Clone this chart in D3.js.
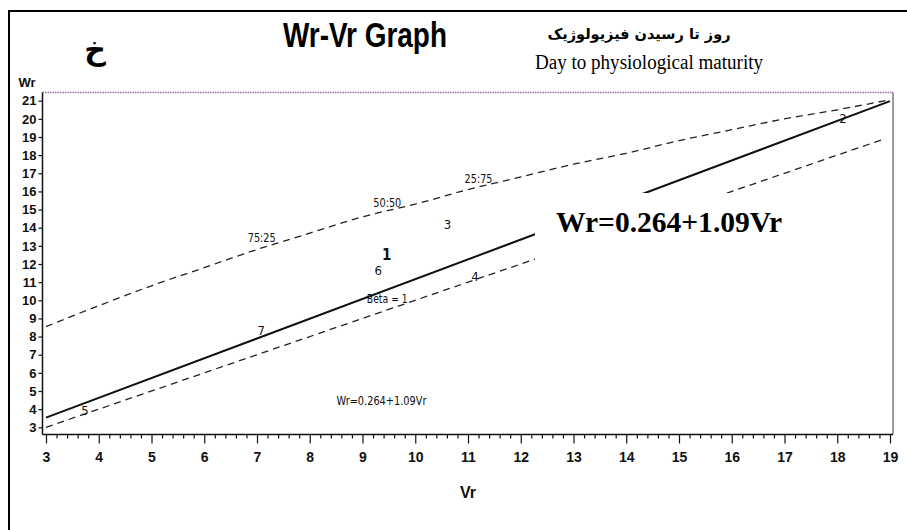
<!DOCTYPE html>
<html>
<head>
<meta charset="utf-8">
<script src="https://cdn.jsdelivr.net/npm/d3@7"></script>
<style>
  html, body { margin: 0; padding: 0; background: #fff; }
  svg { display: block; }
  .narrow { font-family: "Liberation Sans Narrow", "Arial Narrow", "DejaVu Sans Condensed", sans-serif; }
</style>
</head>
<body>
<svg id="chart" width="907" height="530"></svg>
<script>
// ---------- data ----------
const xTicks = [3,4,5,6,7,8,9,10,11,12,13,14,15,16,17,18,19];
const yTicks = [3,4,5,6,7,8,9,10,11,12,13,14,15,16,17,18,19,20,21];

// parent labels (array numbers) plotted at (Vr, Wr)
const parents = ["1","2","3","4","5","6","7"];
const parentVr = [9.46, 18.11, 10.61, 11.13, 3.74, 9.30, 7.08];
const parentWr = [12.52, 20.03, 14.15, 11.30, 3.95, 11.62, 8.33];

// regression line Wr = a + b Vr
const regA = 0.264;
const regB = 1.09;
const regVr = [3, 19];

// unit slope line (Beta = 1)
const betaVr = [3, 18.92];
const betaWr = [3, 18.92];

// limiting parabola
const curveVr = [3,4,5,6,7,8,9,10,11,12,13,14,15,16,17,18,19];
const curveWr = [8.55,9.7,10.8,11.8,12.8,13.7,14.6,15.3,16.1,16.8,17.5,18.1,18.8,19.4,20.0,20.5,21.05];

// ---------- drawing ----------
const svg = d3.select("#chart");
svg.append("rect").attr("width", 907).attr("height", 530).attr("fill", "#fff");

// outer frame (only top and left visible)
svg.append("path").attr("d", "M9,540 L9,11 L920,11")
  .attr("fill", "none").attr("stroke", "#000").attr("stroke-width", 2);

const x = d3.scaleLinear().domain([3, 19]).range([46, 890]);
const y = d3.scaleLinear().domain([3, 21]).range([427.3, 100.7]);

const plotL = 42.5, plotR = 893, plotT = 92.5, plotB = 434.5;

// plot frame: dotted purple top, grey right
svg.append("line").attr("x1", plotL).attr("x2", plotR).attr("y1", plotT).attr("y2", plotT)
  .attr("stroke", "#9a6aa8").attr("stroke-width", 1.3).attr("stroke-dasharray", "1.5,1");
svg.append("line").attr("x1", plotR).attr("x2", plotR).attr("y1", plotT).attr("y2", plotB)
  .attr("stroke", "#666").attr("stroke-width", 1.3);

// curves
const line = d3.line().x(d => x(d[0])).y(d => y(d[1]));
const g = svg.append("g");

g.append("path").datum(curveVr.map((v, i) => [v, curveWr[i]]))
  .attr("d", d3.line().curve(d3.curveMonotoneX).x(d => x(d[0])).y(d => y(d[1])))
  .attr("fill", "none").attr("stroke", "#222").attr("stroke-width", 1.3).attr("stroke-dasharray", "7,5");

g.append("path").datum(betaVr.map((v, i) => [v, betaWr[i]]))
  .attr("d", line)
  .attr("fill", "none").attr("stroke", "#222").attr("stroke-width", 1.3).attr("stroke-dasharray", "7,5");

g.append("path").datum(regVr.map(v => [v, regA + regB * v]))
  .attr("d", line)
  .attr("fill", "none").attr("stroke", "#111").attr("stroke-width", 2);

// curve ratio labels
const ratioLabels = ["75:25", "50:50", "25:75"];
const ratioVr = [7.09, 9.47, 11.2];
const ratioWr = [13.21, 15.16, 16.47];
svg.selectAll(".ratio").data(ratioLabels).enter().append("text")
  .attr("class", "narrow")
  .attr("x", (d, i) => x(ratioVr[i])).attr("y", (d, i) => y(ratioWr[i]))
  .attr("text-anchor", "middle").attr("font-size", 12).attr("fill", "#111")
  .attr("textLength", 28).attr("lengthAdjust", "spacingAndGlyphs")
  .text(d => d);

svg.append("text").attr("class", "narrow")
  .attr("x", x(9.47)).attr("y", y(9.85))
  .attr("text-anchor", "middle").attr("font-size", 12).attr("fill", "#111")
  .attr("textLength", 41).attr("lengthAdjust", "spacingAndGlyphs")
  .text("Beta = 1");

svg.append("text").attr("class", "narrow")
  .attr("x", x(9.36)).attr("y", y(4.23))
  .attr("text-anchor", "middle").attr("font-size", 12).attr("fill", "#111")
  .attr("textLength", 90).attr("lengthAdjust", "spacingAndGlyphs")
  .text("Wr=0.264+1.09Vr");

// parent number labels
svg.selectAll(".parent").data(parents).enter().append("text")
  .attr("class", "narrow")
  .attr("x", (d, i) => x(parentVr[i])).attr("y", (d, i) => y(parentWr[i]))
  .attr("text-anchor", "middle").attr("dominant-baseline", "central")
  .attr("font-size", d => d === "1" ? 15 : 13)
  .attr("font-weight", d => d === "1" ? "bold" : "normal")
  .attr("fill", "#111")
  .text(d => d);

// white box behind the big equation
svg.append("rect").attr("x", 535).attr("y", 193).attr("width", 265).attr("height", 80).attr("fill", "#fff");
svg.append("text")
  .attr("x", 669).attr("y", 232)
  .attr("text-anchor", "middle")
  .attr("font-family", "'Liberation Serif', 'Times New Roman', serif")
  .attr("font-weight", "bold").attr("font-size", 30).attr("fill", "#000")
  .attr("textLength", 226).attr("lengthAdjust", "spacingAndGlyphs")
  .text("Wr=0.264+1.09Vr");

// axes
const xMinor = d3.range(3, 19.0001, 0.2).filter(v => Math.abs(v - Math.round(v)) > 1e-6);
const xAxisMinor = d3.axisBottom(x).tickValues(xMinor).tickSize(4).tickFormat("");
const xAxis = d3.axisBottom(x).tickValues(xTicks).tickSize(9).tickPadding(9).tickFormat(d3.format("d"));
const gx = svg.append("g").attr("transform", `translate(0,${plotB})`);
gx.append("g").call(xAxisMinor).call(s => s.select(".domain").remove());
gx.append("g").attr("class", "narrow").call(xAxis).call(s => s.select(".domain").remove());
gx.selectAll("line").attr("stroke", "#111").attr("stroke-width", 1.2);
gx.selectAll("text").attr("font-family", "'Liberation Sans Narrow', 'Arial Narrow', sans-serif")
  .attr("font-weight", "bold").attr("font-size", 14).attr("fill", "#111");
svg.append("line").attr("x1", plotL).attr("x2", plotR).attr("y1", plotB).attr("y2", plotB)
  .attr("stroke", "#111").attr("stroke-width", 1.5);

const yAxis = d3.axisLeft(y).tickValues(yTicks).tickSize(4).tickPadding(2).tickFormat(d3.format("d"));
const gy = svg.append("g").attr("transform", `translate(${plotL},0)`).call(yAxis);
gy.select(".domain").remove();
gy.selectAll("line").attr("stroke", "#111").attr("stroke-width", 1.2);
gy.selectAll("text").attr("font-family", "'Liberation Sans Narrow', 'Arial Narrow', sans-serif")
  .attr("font-weight", "bold").attr("font-size", 13).attr("fill", "#111");
svg.append("line").attr("x1", plotL).attr("x2", plotL).attr("y1", plotT).attr("y2", plotB)
  .attr("stroke", "#111").attr("stroke-width", 1.5);

// axis titles
svg.append("text").attr("x", 27).attr("y", 87).attr("text-anchor", "middle")
  .attr("font-family", "'Liberation Sans Narrow', 'Arial Narrow', sans-serif")
  .attr("font-weight", "bold").attr("font-size", 13).attr("fill", "#111").text("Wr");
svg.append("text").attr("x", 468).attr("y", 498).attr("text-anchor", "middle")
  .attr("font-family", "'Liberation Sans Narrow', 'Arial Narrow', sans-serif")
  .attr("font-weight", "bold").attr("font-size", 16).attr("fill", "#111").text("Vr");

// titles
svg.append("text").attr("x", 365).attr("y", 47).attr("text-anchor", "middle")
  .attr("font-family", "'Liberation Sans Narrow', 'Arial Narrow', 'Liberation Sans', sans-serif")
  .attr("font-weight", "bold").attr("font-size", 35).attr("fill", "#000")
  .attr("textLength", 164).attr("lengthAdjust", "spacingAndGlyphs")
  .text("Wr-Vr Graph");

svg.append("text").attr("x", 95).attr("y", 60).attr("text-anchor", "middle")
  .attr("font-family", "'DejaVu Sans', 'Noto Sans', sans-serif")
  .attr("font-weight", "bold").attr("font-size", 30).attr("fill", "#000")
  .text("خ");

svg.append("text").attr("x", 639).attr("y", 39).attr("text-anchor", "middle")
  .attr("direction", "rtl")
  .attr("font-family", "'DejaVu Sans', 'Noto Sans', sans-serif")
  .attr("font-weight", "bold").attr("font-size", 14.5).attr("fill", "#000")
  .text("روز تا رسیدن فیزیولوژیک");

svg.append("text").attr("x", 649).attr("y", 69).attr("text-anchor", "middle")
  .attr("font-family", "'Liberation Serif', 'Times New Roman', serif")
  .attr("font-size", 20).attr("fill", "#000")
  .attr("textLength", 228).attr("lengthAdjust", "spacingAndGlyphs")
  .text("Day to physiological maturity");
</script>
</body>
</html>
